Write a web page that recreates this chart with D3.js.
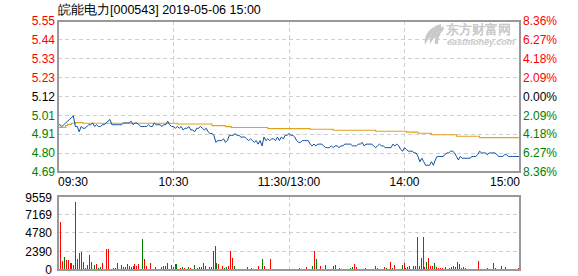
<!DOCTYPE html>
<html lang="zh">
<head>
<meta charset="UTF-8">
<title>皖能电力 分时</title>
<script src="https://cdn.jsdelivr.net/npm/d3@7/dist/d3.min.js"></script>
<style>
    body { margin: 0; background: #fff; }
    text { font-family: "Liberation Sans", Arial, sans-serif; }
</style>
</head>
<body>
<svg width="578" height="276" id="main"></svg>
<script>
    const title = "皖能电力[000543] 2019-05-06 15:00";
    const preClose = 5.12;
    const pctLevels = [8.36, 6.27, 4.18, 2.09, 0, -2.09, -4.18, -6.27, -8.36];
    const priceLabels = ["5.55", "5.44", "5.33", "5.23", "5.12", "5.01", "4.91", "4.80", "4.69"];
    const pctLabels = ["8.36%", "6.27%", "4.18%", "2.09%", "0.00%", "2.09%", "4.18%", "6.27%", "8.36%"];
    const volTicks = [9559, 7169, 4780, 2390, 0];
    const timeMinutes = [0, 60, 120, 180, 240];
    const timeLabels = ["09:30", "10:30", "11:30/13:00", "14:00", "15:00"];

    // one price per minute, 09:30 .. 11:30 | 13:00 .. 15:00
    const prices = [
        4.96, 4.96, 4.95, 4.96, 4.97, 4.98, 4.99, 5.00, 5.01, 4.95,
        4.95, 4.92, 4.95, 4.94, 4.94, 4.95, 4.96, 4.96, 4.97, 4.95,
        4.96, 4.95, 4.95, 4.96, 4.96, 4.97, 4.98, 4.99, 4.96, 4.96,
        4.96, 4.96, 4.96, 4.96, 4.97, 4.97, 4.97, 4.97, 4.98, 4.96,
        4.97, 4.97, 4.96, 4.95, 4.95, 4.95, 4.95, 4.96, 4.95, 4.95,
        4.97, 4.96, 4.96, 4.96, 4.95, 4.96, 4.96, 4.98, 4.96, 4.95,
        4.95, 4.94, 4.95, 4.94, 4.95, 4.93, 4.94, 4.94, 4.95, 4.93,
        4.93, 4.92, 4.94, 4.94, 4.95, 4.94, 4.93, 4.94, 4.92, 4.91,
        4.91, 4.90, 4.86, 4.87, 4.87, 4.87, 4.88, 4.86, 4.87, 4.90,
        4.90, 4.90, 4.91, 4.90, 4.90, 4.89, 4.89, 4.89, 4.88, 4.87,
        4.88, 4.87, 4.86, 4.87, 4.85, 4.87, 4.84, 4.89, 4.87, 4.88,
        4.87, 4.88, 4.88, 4.87, 4.89, 4.87, 4.89, 4.88, 4.90, 4.90,
        4.91, 4.90, 4.90, 4.89, 4.87, 4.86, 4.86, 4.87, 4.87, 4.87,
        4.87, 4.85, 4.84, 4.85, 4.84, 4.85, 4.85, 4.85, 4.84, 4.83,
        4.83, 4.83, 4.84, 4.83, 4.84, 4.84, 4.83, 4.84, 4.84, 4.85,
        4.85, 4.85, 4.85, 4.84, 4.84, 4.84, 4.85, 4.85, 4.86, 4.84,
        4.85, 4.85, 4.85, 4.85, 4.84, 4.83, 4.84, 4.85, 4.84, 4.84,
        4.83, 4.83, 4.83, 4.83, 4.85, 4.84, 4.85, 4.84, 4.82, 4.81,
        4.83, 4.82, 4.81, 4.81, 4.81, 4.80, 4.80, 4.78, 4.75, 4.77,
        4.75, 4.73, 4.73, 4.73, 4.75, 4.73, 4.76, 4.78, 4.78, 4.78,
        4.78, 4.79, 4.80, 4.80, 4.81, 4.81, 4.80, 4.78, 4.76, 4.78,
        4.77, 4.77, 4.77, 4.77, 4.77, 4.78, 4.78, 4.78, 4.79, 4.81,
        4.80, 4.80, 4.80, 4.79, 4.80, 4.80, 4.80, 4.80, 4.79, 4.78,
        4.78, 4.78, 4.79, 4.79, 4.78, 4.78, 4.78, 4.78, 4.78, 4.78,
        4.78
    ];

    // average price line, break points (minute, price)
    const avgMinutes = [0, 3, 4, 5, 7, 9, 13, 62, 80, 87, 90, 109, 131, 143, 165, 181, 187, 194, 207, 219, 240];
    const avgPrices = [4.945, 4.945, 4.955, 4.962, 4.968, 4.972, 4.968, 4.964, 4.955, 4.949, 4.944,
        4.938, 4.934, 4.929, 4.923, 4.918, 4.912, 4.903, 4.895, 4.887, 4.887];

    const volumes = [
        6244, 1163, 1636, 1292, 1292, 861, 947, 646, 8827, 1421,
        2239, 2368, 1076, 215, 646, 1938, 1076, 129, 646, 775,
        215, 431, 947, 130, 2713, 2713, 130, 130, 215, 215,
        947, 130, 646, 431, 344, 775, 517, 344, 517, 775,
        517, 775, 130, 4005, 1421, 517, 130, 947, 130, 130,
        344, 130, 130, 344, 517, 517, 861, 130, 646, 344,
        775, 775, 130, 215, 344, 215, 130, 344, 215, 130,
        646, 130, 215, 344, 344, 947, 517, 130, 344, 344,
        2454, 3100, 947, 775, 130, 517, 215, 344, 517, 2454,
        1550, 517, 130, 130, 130, 130, 130, 130, 344, 130,
        215, 130, 130, 130, 517, 130, 1421, 517, 130, 130,
        1421, 130, 130, 130, 130, 130, 130, 130, 130, 130,
        130, 130, 130, 130, 130, 215, 130, 130, 130, 344,
        130, 130, 517, 2454, 1421, 130, 517, 130, 130, 646,
        130, 130, 130, 517, 646, 130, 215, 130, 130, 130,
        130, 130, 215, 344, 775, 344, 130, 130, 130, 130,
        215, 130, 130, 130, 130, 517, 215, 130, 130, 130,
        344, 215, 130, 990, 215, 646, 130, 130, 130, 646,
        861, 215, 344, 517, 130, 517, 517, 4220, 517, 1507,
        4220, 344, 990, 1507, 517, 517, 861, 344, 215, 215,
        215, 130, 344, 130, 215, 344, 517, 344, 990, 775,
        215, 344, 215, 130, 130, 130, 130, 130, 130, 1163,
        130, 130, 130, 130, 215, 130, 130, 861, 215, 130,
        130, 517, 130, 431, 130, 130, 130, 0, 0, 0,
        215
    ];
    // 1 = red (up), 0 = green (down)
    const volUp = [
        1, 1, 0, 1, 1, 1, 1, 1, 0, 1,  0, 1, 0, 1, 1, 1, 1, 0, 0, 1,
        0, 0, 1, 1, 1, 1, 1, 1, 0, 0,  1, 1, 1, 1, 1, 1, 1, 1, 0, 1,
        1, 1, 1, 0, 1, 1, 1, 1, 1, 1,  0, 1, 1, 0, 0, 0, 1, 0, 1, 1,
        0, 0, 1, 1, 0, 1, 1, 0, 1, 1,  0, 1, 1, 0, 1, 0, 0, 1, 1, 1,
        0, 0, 0, 1, 1, 1, 0, 0, 1, 1,  1, 0, 1, 1, 1, 1, 1, 1, 0, 1,
        0, 1, 1, 1, 1, 1, 0, 1, 1, 1,  1, 1, 1, 1, 1, 0, 1, 1, 0, 1,
        1, 0, 1, 1, 1, 0, 1, 1, 1, 1,  0, 1, 0, 1, 0, 1, 1, 1, 1, 0,
        1, 1, 0, 0, 1, 1, 1, 1, 1, 1,  1, 1, 0, 0, 1, 1, 1, 1, 1, 1,
        0, 1, 1, 1, 1, 1, 0, 1, 0, 1,  1, 0, 1, 1, 0, 1, 0, 0, 1, 0,
        1, 1, 0, 1, 1, 0, 0, 0, 0, 0,  1, 1, 0, 1, 1, 1, 0, 1, 1, 1,
        1, 1, 1, 1, 1, 1, 0, 0, 0, 0,  1, 0, 1, 1, 1, 1, 1, 1, 1, 1,
        1, 1, 1, 0, 1, 1, 1, 1, 0, 0,  0, 0, 1, 1, 0, 0, 0, 1, 1, 1,
        1
    ];

    const RED = "#ff0000", GREEN = "#008000", BORDER = "#999", GRID = "#cfcfcf";
    const left = 58, right = 520, pTop = 21, pBottom = 172, vTop = 196, vBottom = 270;

    const svg = d3.select("#main");

    let x = d3.scaleLinear().domain([0, 240]).range([left, right]);
    let xb = d3.scaleLinear().domain([0, 240]).range([60, 518]);
    let y = d3.scaleLinear()
        .domain([preClose * (1 - 0.0836), preClose * (1 + 0.0836)])
        .range([pBottom, pTop]);
    let yv = d3.scaleLinear().domain([0, volTicks[0]]).range([vBottom, vTop]);

    const levelY = pctLevels.map(p => y(preClose * (1 + p / 100)));
    const colorOf = p => p > 0 ? RED : (p < 0 ? GREEN : "#000");

    // title
    svg.append("text")
        .attr("x", left).attr("y", 14)
        .attr("font-family", "'Noto Sans CJK SC', sans-serif")
        .attr("font-size", 12.5)
        .attr("fill", "#000")
        .text(title);

    // grids
    const grid = svg.append("g")
        .attr("stroke", GRID).attr("stroke-dasharray", "4,3")
        .attr("shape-rendering", "crispEdges");
    grid.selectAll(".hp").data(levelY.slice(1, -1)).join("line")
        .attr("x1", left).attr("x2", right).attr("y1", d => d).attr("y2", d => d);
    grid.selectAll(".hv").data(volTicks.slice(1, -1)).join("line")
        .attr("x1", left).attr("x2", right).attr("y1", d => yv(d)).attr("y2", d => yv(d));
    [[pTop, pBottom], [vTop, vBottom]].forEach(([a, b]) => {
        grid.append("g").selectAll("line").data(timeMinutes.slice(1, -1)).join("line")
            .attr("x1", d => x(d)).attr("x2", d => x(d)).attr("y1", a).attr("y2", b);
    });

    // watermark
    const wm = svg.append("g").attr("fill", "#c9c9c9");
    wm.append("path")
        .attr("d", "M441,24 C430,27 423,35 425,45 C428,38 434,33 441,31 Z M436,30 C431,34 429,39 430,44 C432,40 435,37 438,35 Z");
    wm.append("path")
        .attr("d", "M443,26 C437,31 434,38 435,44 L438,44 C438,38 440,33 444,29 Z");
    wm.append("text").attr("x", 446).attr("y", 34)
        .attr("font-family", "'Noto Sans CJK SC', sans-serif")
        .attr("font-size", 13).attr("font-weight", "bold")
        .text("东方财富网");
    wm.append("text").attr("x", 447).attr("y", 45)
        .attr("font-size", 9).attr("font-weight", "bold").attr("font-style", "italic")
        .text("eastmoney.com");

    // volume bars
    svg.append("g").attr("shape-rendering", "crispEdges")
        .selectAll("rect")
        .data(volumes)
        .join("rect")
        .attr("x", (d, i) => Math.round(xb(i)))
        .attr("width", 1)
        .attr("y", d => d > 0 ? Math.min(yv(d), vBottom - 1) : vBottom)
        .attr("height", d => d > 0 ? Math.max(1, vBottom - yv(d)) : 0)
        .attr("fill", (d, i) => volUp[i] ? RED : GREEN);

    // average line and price line
    svg.append("path")
        .datum(avgMinutes.map((m, i) => [m, avgPrices[i]]))
        .attr("fill", "none").attr("stroke", "#e0a31c").attr("stroke-width", 1.1)
        .attr("d", d3.line().curve(d3.curveStepAfter).x(d => x(d[0])).y(d => y(d[1])));
    svg.append("path")
        .datum(prices)
        .attr("fill", "none").attr("stroke", "#0d4f9f").attr("stroke-width", 1)
        .attr("stroke-linejoin", "round")
        .attr("d", d3.line().x((d, i) => x(i)).y(d => y(d)));

    // frames
    const frame = svg.append("g").attr("fill", "none").attr("stroke", BORDER)
        .attr("stroke-width", 1.5).attr("shape-rendering", "crispEdges");
    frame.append("rect").attr("x", left).attr("y", pTop).attr("width", right - left).attr("height", pBottom - pTop);
    frame.append("rect").attr("x", left).attr("y", vTop).attr("width", right - left).attr("height", vBottom - vTop);

    // price axis labels
    svg.append("g").selectAll("text").data(pctLevels).join("text")
        .attr("x", 55).attr("y", (d, i) => levelY[i]).attr("dy", "0.35em")
        .attr("text-anchor", "end").attr("font-size", 12)
        .attr("fill", d => colorOf(d))
        .text((d, i) => priceLabels[i]);
    svg.append("g").selectAll("text").data(pctLevels).join("text")
        .attr("x", 523).attr("y", (d, i) => levelY[i]).attr("dy", "0.35em")
        .attr("font-size", 12)
        .attr("fill", d => colorOf(d))
        .text((d, i) => pctLabels[i]);

    // volume axis labels
    svg.append("g").selectAll("text").data(volTicks).join("text")
        .attr("x", 52).attr("y", (d, i) => i === 0 ? yv(d) + 2 : yv(d)).attr("dy", "0.35em")
        .attr("text-anchor", "end").attr("font-size", 12).attr("fill", "#000")
        .text(d => d);

    // time axis labels
    svg.append("g").selectAll("text").data(timeMinutes).join("text")
        .attr("x", d => x(d)).attr("y", 186)
        .attr("text-anchor", (d, i) => i === 0 ? "start" : (i === timeMinutes.length - 1 ? "end" : "middle"))
        .attr("font-size", 12).attr("fill", "#000")
        .text((d, i) => timeLabels[i]);
</script>
</body>
</html>
